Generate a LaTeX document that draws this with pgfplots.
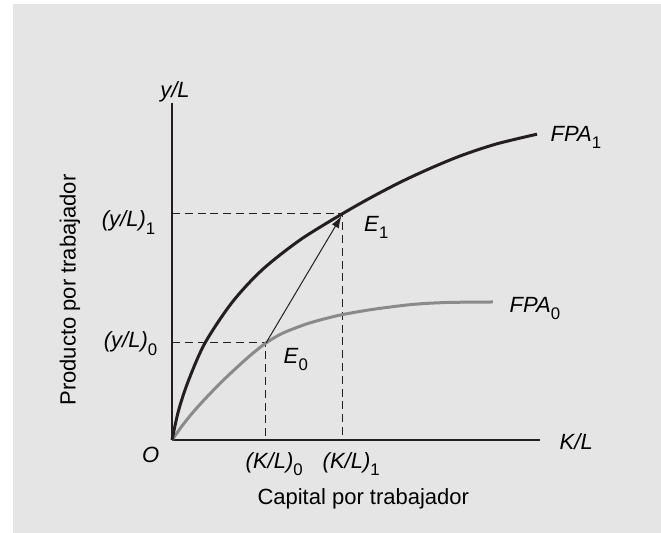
\documentclass[border=0pt]{standalone}
\usepackage{fontspec}
\setmainfont{Liberation Sans}
\usepackage{pgfplots}
\pgfplotsset{compat=1.18}
\usetikzlibrary{arrows.meta}

\definecolor{panel}{HTML}{E5E5E5}
\definecolor{curvegray}{HTML}{8A8A8A}
\definecolor{ink}{HTML}{231F20}
% lowered subscript, as in the reference
\newcommand\sub[1]{\raisebox{-3.6pt}{\fontsize{8.4}{9}\selectfont #1}}

\begin{document}
\fontsize{11}{13}\selectfont
\begin{tikzpicture}
% page and gray panel (1 px of the reference = 0.5pt, origin O at the axes corner)
\path[use as bounding box, fill=white] (-86pt,-46.5pt) rectangle (244.5pt,220pt);
\fill[panel] (-79.5pt,-46.5pt) rectangle (244.5pt,218pt);
\begin{axis}[
    anchor=origin, at={(0,0)},
    x=0.5pt, y=0.5pt,
    xmin=0, xmax=368,
    ymin=0, ymax=337,
    axis x line=bottom, axis y line=left,
    axis line style={-, ink, line width=0.75pt},
    xtick=\empty, ytick=\empty,
    clip=false,
    every node/.append style={inner sep=0pt, text=ink},
]
% guide lines
\addplot[ink, line width=0.5pt, dash pattern=on 4pt off 2.4pt] coordinates {(0,226) (171,226) (171,0)};
\addplot[ink, line width=0.5pt, dash pattern=on 4pt off 2.4pt] coordinates {(0,97) (94,97) (94,0)};
% FPA0
\addplot[curvegray, line width=1.5pt, smooth] coordinates {
    (0,0) (10,14) (20,26.5) (33,41) (50,58.5) (67,74.5) (80,86) (94,97)
    (110,106.5) (133,115.5) (150,120.5) (170,125.3) (200,130.5) (240,135.5)
    (275,137.5) (321,138)};
% FPA1
\addplot[ink, line width=1.5pt, smooth] coordinates {
    (0,0) (6.7,30) (16.7,60) (33,97) (60,137.5) (90,170) (128,200)
    (170,226) (200,243) (230,258.6) (260,272.4) (290,284.7) (325,296.2)
    (365,305.8)};
% shift from E0 to E1
\addplot[ink, line width=0.5pt, -{Latex[length=6pt,width=4pt]}] coordinates {(94,97) (169.5,224)};

\node at (axis cs:3,348) {\textit{y/L}};
\node[anchor=base west] at (axis cs:380,-9.3) {\textit{K/L}};
\node[anchor=base east] at (axis cs:-5,-22.7) {\textit{O}};
\node[anchor=base east] at (axis cs:-9,213) {\textit{(y/L)}\sub{1}};
\node[anchor=base east] at (axis cs:-7,92) {\textit{(y/L)}\sub{0}};
\node[anchor=base west] at (axis cs:66,-28.3) {\textit{(K/L)}\sub{0}};
\node[anchor=base west] at (axis cs:143,-28.3) {\textit{(K/L)}\sub{1}};
\node[anchor=base west] at (axis cs:184.5,208.3) {\textit{E}\sub{1}};
\node[anchor=base west] at (axis cs:104,76.7) {\textit{E}\sub{0}};
\node[anchor=base west] at (axis cs:371,298.3) {\textit{FPA}\sub{1}};
\node[anchor=base west] at (axis cs:330,127.7) {\textit{FPA}\sub{0}};
\node[anchor=base] at (axis cs:191.3,-65) {Capital por trabajador};
\node[rotate=90] at (axis cs:-102,150) {Producto por trabajador};
\end{axis}
\end{tikzpicture}
\end{document}
